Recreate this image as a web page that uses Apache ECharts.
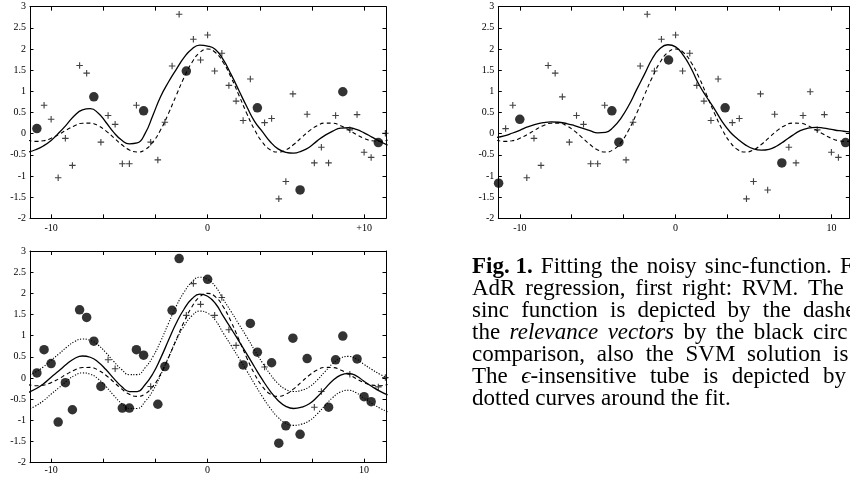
<!DOCTYPE html>
<html>
<head>
<meta charset="utf-8">
<script src="https://cdn.jsdelivr.net/npm/echarts@6/dist/echarts.min.js"></script>
<style>
html,body{margin:0;padding:0;background:#fff;}
#chart{width:850px;height:479px;}
</style>
</head>
<body>
<div id="chart"></div>
<script>
// ---------------- data ----------------
// noisy training samples (shared by all three panels)
const noiseX = [-11.36,-10.91,-10.45,-10.00,-9.55,-9.09,-8.64,-8.18,-7.73,-7.27,-6.82,-6.36,-5.91,-5.45,-5.00,-4.55,-4.09,-3.64,-3.18,-2.73,-2.27,-1.82,-1.36,-0.91,-0.45,0.00,0.45,0.91,1.36,1.82,2.27,2.73,3.18,3.64,4.09,4.55,5.00,5.45,5.91,6.36,6.82,7.27,7.73,8.18,8.64,9.09,9.55,10.00,10.45,10.91,11.36];
const noiseY = [-1.17,0.12,0.67,0.34,-1.04,-0.11,-0.75,1.61,1.43,0.87,-0.20,0.43,0.22,-0.71,-0.71,0.67,0.54,-0.20,-0.62,0.27,1.60,2.82,1.48,2.23,1.74,2.33,1.48,1.90,1.14,0.77,0.31,1.29,0.61,0.26,0.36,-1.54,-1.13,0.94,-1.33,0.46,-0.69,-0.32,-0.69,0.43,0.99,0.09,0.45,-0.44,-0.56,-0.21,0.01];

// indices of samples drawn as black circles in each panel
const circlesAdR = [0,1,9,16,22,32,38,44,49];
const circlesRVM = [0,3,16,17,24,32,40,49];
const circlesSVM = [0,1,2,3,4,5,6,7,8,9,10,13,14,15,16,18,19,20,21,25,30,31,32,34,35,36,37,38,39,42,43,44,46,47,48];

// curve sample positions
const curveX = [-11.5,-11,-10.5,-10,-9.5,-9,-8.5,-8,-7.5,-7,-6.5,-6,-5.5,-5,-4.5,-4,-3.5,-3,-2.5,-2,-1.5,-1,-0.5,0,0.5,1,1.5,2,2.5,3,3.5,4,4.5,5,5.5,6,6.5,7,7.5,8,8.5,9,9.5,10,10.5,11,11.5];
// true sinc function (dashed)
const sincTrue = [-0.152,-0.182,-0.168,-0.109,-0.016,0.092,0.188,0.247,0.250,0.188,0.066,-0.093,-0.257,-0.384,-0.434,-0.378,-0.200,0.094,0.479,0.909,1.330,1.683,1.918,2.000,1.918,1.683,1.330,0.909,0.479,0.094,-0.200,-0.378,-0.434,-0.384,-0.257,-0.093,0.066,0.188,0.250,0.247,0.188,0.092,-0.016,-0.109,-0.168,-0.182,-0.152];
// AdR fit (top left, solid)
const fitAdR = [-0.44,-0.38,-0.29,-0.16,0.02,0.22,0.43,0.56,0.59,0.49,0.27,0.03,-0.15,-0.24,-0.22,0.00,0.43,0.88,1.22,1.52,1.80,2.00,2.09,2.07,1.99,1.75,1.40,1.02,0.64,0.29,0.05,-0.19,-0.36,-0.44,-0.46,-0.41,-0.32,-0.17,-0.04,0.06,0.13,0.14,0.10,0.02,-0.08,-0.18,-0.27];
// RVM fit (top right, solid)
const fitRVM = [-0.09,-0.05,0.01,0.08,0.16,0.22,0.26,0.28,0.27,0.24,0.19,0.13,0.07,0.02,0.03,0.15,0.37,0.67,1.04,1.40,1.77,2.01,2.10,2.05,1.85,1.54,1.16,0.86,0.58,0.28,0.04,-0.13,-0.27,-0.36,-0.39,-0.37,-0.29,-0.17,-0.04,0.07,0.13,0.15,0.13,0.10,0.07,0.05,0.03];
// SVM fit (bottom left, solid) and epsilon tube (dotted)
const fitSVM = [-0.35,-0.26,-0.14,0.02,0.17,0.33,0.46,0.52,0.49,0.38,0.20,-0.01,-0.20,-0.32,-0.32,-0.16,0.10,0.47,0.89,1.30,1.63,1.87,1.98,1.93,1.76,1.46,1.17,0.87,0.57,0.26,-0.04,-0.31,-0.53,-0.67,-0.72,-0.69,-0.61,-0.45,-0.25,-0.06,0.07,0.11,0.05,-0.08,-0.20,-0.31,-0.40];
const tubeUpper = [0.05,0.14,0.26,0.42,0.57,0.73,0.86,0.92,0.89,0.78,0.60,0.39,0.20,0.08,0.08,0.24,0.50,0.87,1.29,1.70,2.03,2.27,2.38,2.33,2.16,1.86,1.57,1.27,0.97,0.66,0.36,0.09,-0.13,-0.27,-0.32,-0.29,-0.21,-0.05,0.15,0.34,0.47,0.51,0.45,0.32,0.20,0.09,0.00];
const tubeLower = [-0.75,-0.66,-0.54,-0.38,-0.23,-0.07,0.06,0.12,0.09,-0.02,-0.20,-0.41,-0.60,-0.72,-0.72,-0.56,-0.30,0.07,0.49,0.90,1.23,1.47,1.58,1.53,1.36,1.06,0.77,0.47,0.17,-0.14,-0.44,-0.71,-0.93,-1.07,-1.12,-1.09,-1.01,-0.85,-0.65,-0.46,-0.33,-0.29,-0.35,-0.48,-0.60,-0.71,-0.80];

// tick marks / labels
const xTickValues = [-10,-6.6667,-3.3333,0,3.3333,6.6667,10];
const xLabelValues = [-10,0,10];
const xLabelsTopLeft = ['-10','0','+10'];
const xLabelsOther = ['-10','0','10'];
const yLabelValues = [3,2.5,2,1.5,1,0.5,0,-0.5,-1,-1.5,-2];
const yLabels = ['3','2.5','2','1.5','1','0.5','0','-0.5','-1','-1.5','-2'];

// caption (one string per printed line; *italic*, **bold**)
const captionLines = [
  '**Fig.\u00a01.** Fitting the noisy sinc-function. F',
  'AdR regression, first right: RVM. The',
  'sinc function is depicted by the dashe',
  'the *relevance* *vectors* by the black circ',
  'comparison, also the SVM solution is',
  'The *ϵ*-insensitive tube is depicted by',
  'dotted curves around the fit.'
];

// ---------------- layout ----------------
const SERIF = "'Liberation Serif','DejaVu Serif',serif";
const CAP_FONT_SIZE = 23;
const CAP_X0 = 472;
const CAP_BASE0 = 275;
const CAP_STEP = 22.0;
const CAP_LASTWORD_X = [840, 808, 803, 813, 833, 823, null];

const grids = [
  {left:30, top:6.67, width:356, height:211.67},
  {left:498.3, top:6.67, width:351, height:211.67},
  {left:30, top:251, width:356, height:211.67}
];
const xRanges = [[-11.35,11.4],[-11.38,11.15],[-11.35,11.4]];
const xLabelSets = [xLabelsTopLeft, xLabelsOther, xLabelsOther];
const xLabelMargins = [5, 5, 3];

function nearestIdx(arr, v){
  let b=0; for(let i=1;i<arr.length;i++) if(Math.abs(arr[i]-v)<Math.abs(arr[b]-v)) b=i; return b;
}

const xAxis = [], yAxis = [];
grids.forEach((g, gi) => {
  const labels = xLabelSets[gi];
  const common = {
    type:'value', gridIndex:gi, min:xRanges[gi][0], max:xRanges[gi][1],
    axisLine:{show:true,onZero:false,lineStyle:{color:'#000',width:1}},
    axisTick:{show:true,inside:true,length:4,customValues:xTickValues,lineStyle:{color:'#000',width:1}},
    splitLine:{show:false}
  };
  xAxis.push(Object.assign({}, common, {
    position:'bottom',
    axisLabel:{show:true,customValues:xLabelValues,margin:xLabelMargins[gi],
      formatter:(v)=>labels[nearestIdx(xLabelValues,v)],
      fontFamily:SERIF,fontSize:10,color:'#000'}
  }));
  xAxis.push(Object.assign({}, common, {position:'top', axisLabel:{show:false}}));
  const ycommon = {
    type:'value', gridIndex:gi, min:-2, max:3, interval:0.5,
    axisLine:{show:true,onZero:false,lineStyle:{color:'#000',width:1}},
    axisTick:{show:true,inside:true,length:3.5,lineStyle:{color:'#000',width:1}},
    splitLine:{show:false}
  };
  yAxis.push(Object.assign({}, ycommon, {
    position:'left',
    axisLabel:{show:true,margin:4,formatter:(v)=>yLabels[nearestIdx(yLabelValues,v)],
      fontFamily:SERIF,fontSize:10,color:'#000'}
  }));
  yAxis.push(Object.assign({}, ycommon, {position:'right', axisLabel:{show:false}}));
});

function pairs(ys){ return curveX.map((x,i)=>[x, ys[i]]); }
function lineSeries(gi, ys, type, width){
  return {type:'line', xAxisIndex:2*gi, yAxisIndex:2*gi, data:pairs(ys), smooth:true,
    showSymbol:false, symbol:'none', clip:true, silent:true, z:2,
    lineStyle:{color:'#000', width:width, type:type}};
}
const PLUS = 'path://M-0.17,-1H0.17V-0.17H1V0.17H0.17V1H-0.17V0.17H-1V-0.17H-0.17Z';
function pointSeries(gi, circleIdx){
  const circ = [], cross = [];
  noiseX.forEach((x,i)=>{ (circleIdx.includes(i)?circ:cross).push([x, noiseY[i]]); });
  return [
    {type:'scatter', xAxisIndex:2*gi, yAxisIndex:2*gi, data:cross, symbol:PLUS, symbolSize:6.5,
      clip:true, silent:true, z:3, itemStyle:{color:'#111'}},
    {type:'scatter', xAxisIndex:2*gi, yAxisIndex:2*gi, data:circ, symbol:'circle', symbolSize:9.5,
      clip:true, silent:true, z:4, itemStyle:{color:'#000'}}
  ];
}

const series = [
  lineSeries(0, fitAdR, 'solid', 1.3),
  lineSeries(0, sincTrue, [4,3], 1.1),
  ...pointSeries(0, circlesAdR),
  lineSeries(1, fitRVM, 'solid', 1.3),
  lineSeries(1, sincTrue, [4,3], 1.1),
  ...pointSeries(1, circlesRVM),
  lineSeries(2, fitSVM, 'solid', 1.3),
  lineSeries(2, sincTrue, [4,3], 1.1),
  lineSeries(2, tubeUpper, [1.2,1.6], 1.1),
  lineSeries(2, tubeLower, [1.2,1.6], 1.1),
  ...pointSeries(2, circlesSVM)
];

// ---------------- caption as justified words ----------------
const measureCtx = document.createElement('canvas').getContext('2d');
function fontStr(style, weight){ return `${style} ${weight} ${CAP_FONT_SIZE}px ${SERIF}`; }
function parseWord(w){
  const segs = [];
  const re = /(\*\*[^*]+\*\*|\*[^*]+\*|[^*]+)/g;
  let m;
  while((m = re.exec(w))){
    let t = m[0], st='normal', wt='normal';
    if(t.startsWith('**')){ t=t.slice(2,-2); wt='bold'; }
    else if(t.startsWith('*')){ t=t.slice(1,-1); st='italic'; }
    measureCtx.font = fontStr(st, wt);
    segs.push({t, font:fontStr(st,wt), w:measureCtx.measureText(t).width});
  }
  return {segs, w:segs.reduce((a,s)=>a+s.w,0)};
}
const graphics = [];
measureCtx.font = fontStr('normal','normal');
const spaceW = measureCtx.measureText(' ').width;
captionLines.forEach((line, li) => {
  const words = line.split(' ').map(parseWord);
  let gap = spaceW;
  const target = CAP_LASTWORD_X[li];
  if(target !== null && words.length > 1){
    const before = words.slice(0,-1).reduce((a,w)=>a+w.w,0);
    gap = (target - CAP_X0 - before) / (words.length - 1);
  }
  const yMid = CAP_BASE0 + li*CAP_STEP - 0.3375*CAP_FONT_SIZE;
  let x = CAP_X0;
  words.forEach((w) => {
    let sx = x;
    w.segs.forEach(s => {
      graphics.push({type:'text', x:sx, y:yMid, silent:true,
        style:{text:s.t, font:s.font, fill:'#000', align:'left', verticalAlign:'middle'}});
      sx += s.w;
    });
    x += w.w + gap;
  });
});

const chart = echarts.init(document.getElementById('chart'), null, {renderer:'canvas'});
chart.setOption({
  animation:false,
  backgroundColor:'#fff',
  grid: grids.map(g=>Object.assign({containLabel:false, show:false}, g)),
  xAxis, yAxis, series,
  graphic: graphics
});
</script>
</body>
</html>
